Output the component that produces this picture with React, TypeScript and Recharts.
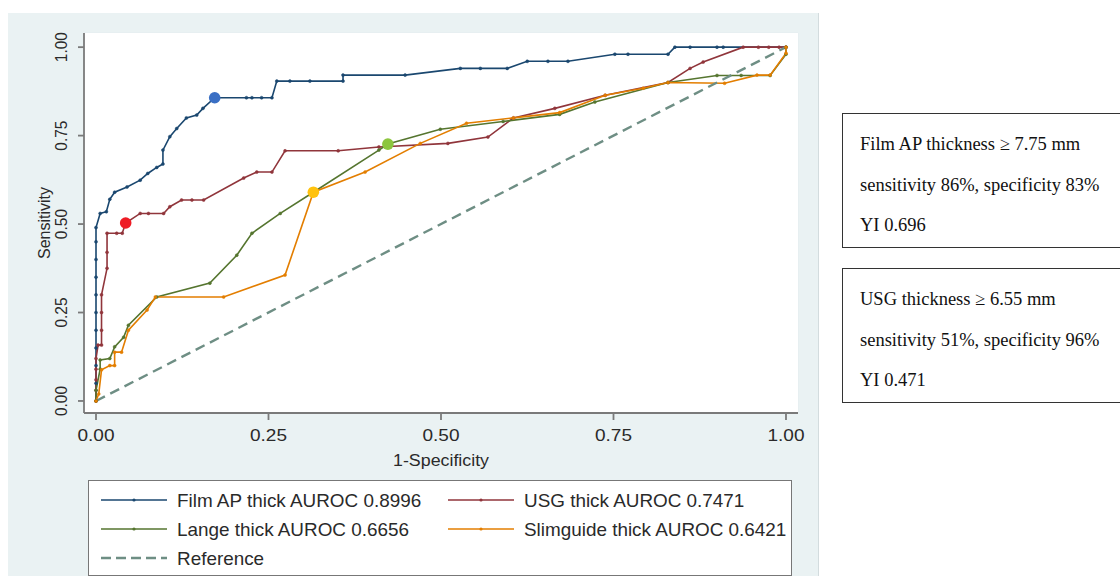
import React from "react";
import { CartesianGrid, ComposedChart, Line, Scatter, XAxis, YAxis } from "recharts";

// ROC points (1-specificity, sensitivity)
const filmX = [0, 0, 0, 0, 0, 0, 0, 0, 0, 0, 0, 0.006, 0.015, 0.02, 0.027, 0.045, 0.064, 0.075, 0.088, 0.097, 0.097, 0.107, 0.117, 0.131, 0.146, 0.155, 0.172, 0.218, 0.226, 0.24, 0.255, 0.262, 0.281, 0.31, 0.358, 0.358, 0.448, 0.528, 0.557, 0.596, 0.625, 0.655, 0.684, 0.752, 0.771, 0.829, 0.839, 0.861, 0.9, 0.909, 1];
const filmY = [0, 0.05, 0.1, 0.15, 0.2, 0.25, 0.3, 0.35, 0.4, 0.45, 0.49, 0.53, 0.535, 0.57, 0.59, 0.605, 0.624, 0.643, 0.66, 0.67, 0.709, 0.747, 0.77, 0.8, 0.808, 0.827, 0.857, 0.857, 0.857, 0.857, 0.857, 0.904, 0.904, 0.904, 0.904, 0.921, 0.921, 0.94, 0.94, 0.94, 0.96, 0.96, 0.96, 0.98, 0.98, 0.98, 1, 1, 1, 1, 1];

const usgX = [0, 0, 0, 0, 0, 0.003, 0.008, 0.008, 0.008, 0.008, 0.016, 0.016, 0.016, 0.03, 0.038, 0.043, 0.064, 0.076, 0.098, 0.107, 0.124, 0.139, 0.156, 0.214, 0.233, 0.255, 0.274, 0.351, 0.41, 0.51, 0.568, 0.605, 0.665, 0.738, 0.829, 0.861, 0.88, 0.938, 0.96, 0.975, 0.99, 1];
const usgY = [0, 0.03, 0.06, 0.09, 0.12, 0.158, 0.158, 0.2, 0.25, 0.3, 0.375, 0.42, 0.474, 0.474, 0.474, 0.503, 0.53, 0.53, 0.53, 0.549, 0.568, 0.568, 0.568, 0.63, 0.647, 0.647, 0.707, 0.707, 0.718, 0.728, 0.746, 0.8, 0.827, 0.864, 0.9, 0.94, 0.958, 1, 1, 1, 1, 1];

const langeX = [0, 0, 0.006, 0.006, 0.02, 0.027, 0.04, 0.047, 0.088, 0.165, 0.204, 0.226, 0.267, 0.315, 0.41, 0.423, 0.499, 0.59, 0.672, 0.723, 0.829, 0.9, 0.935, 0.977, 1, 1];
const langeY = [0, 0.03, 0.09, 0.116, 0.12, 0.153, 0.18, 0.214, 0.294, 0.333, 0.412, 0.474, 0.53, 0.59, 0.709, 0.726, 0.768, 0.79, 0.81, 0.845, 0.9, 0.92, 0.92, 0.92, 0.98, 1];

const slimX = [0, 0.004, 0.008, 0.02, 0.027, 0.027, 0.037, 0.047, 0.074, 0.086, 0.185, 0.274, 0.315, 0.39, 0.47, 0.537, 0.605, 0.672, 0.738, 0.793, 0.829, 0.911, 0.958, 0.977, 1, 1];
const slimY = [0, 0.02, 0.088, 0.1, 0.1, 0.138, 0.138, 0.2, 0.257, 0.294, 0.294, 0.356, 0.59, 0.647, 0.728, 0.785, 0.8, 0.815, 0.864, 0.884, 0.9, 0.898, 0.921, 0.921, 0.983, 1];

const refX = [0, 1];
const refY = [0, 1];

// optimal cut-points (big dots)
const cutX = [0.172, 0.043, 0.423, 0.315];
const cutY = [0.857, 0.503, 0.726, 0.59];
const cutColors = ["#3a6fc4", "#ee1c25", "#8dc63f", "#ffc20e"];

const seriesNames = [
  "Film AP thick AUROC 0.8996",
  "USG thick AUROC 0.7471",
  "Lange thick AUROC 0.6656",
  "Slimguide thick AUROC 0.6421",
];
const seriesColors = ["#1a476f", "#90353b", "#55752f", "#e37e00"];
const REF_NAME = "Reference";
const REF_COLOR = "#6e8e84";

const xTicks = [0, 0.25, 0.5, 0.75, 1];
const yTicks = [0, 0.25, 0.5, 0.75, 1];

const boxLines = [
  ["Film AP thickness \u2265 7.75 mm", "sensitivity 86%, specificity 83%", "YI 0.696"],
  ["USG thickness \u2265 6.55 mm", "sensitivity 51%, specificity 96%", "YI 0.471"],
];

const zip = (xs: number[], ys: number[]) => xs.map((x, i) => ({ x, y: ys[i] }));

const SANS = "'Liberation Sans', Arial, sans-serif";
const BG = "#eaf2f3";
const AXIS = "#7a7a7a";
const TXT = "#2a2a2a";

const W = 830;
const H = 576;
const PLOT_LEFT = 84;
const PLOT_TOP = 33;
const PLOT_RIGHT = 798;
const PLOT_BOTTOM = 413;
const YW = 50;
const XH = 40;

function XTick({ x, y, payload }: any) {
  return (
    <text
      transform={`translate(${x},${y + 19}) scale(1.12,1)`}
      textAnchor="middle"
      fontFamily={SANS}
      fontSize={17}
      fill={TXT}
    >
      {Number(payload.value).toFixed(2)}
    </text>
  );
}

function YTick({ x, y, payload }: any) {
  return (
    <text
      transform={`translate(${x - 9},${y}) scale(1.12,1) rotate(-90)`}
      textAnchor="middle"
      fontFamily={SANS}
      fontSize={15.5}
      fill={TXT}
    >
      {Number(payload.value).toFixed(2)}
    </text>
  );
}

function Legend() {
  const rows = [
    [0, 1],
    [2, 3],
  ];
  const cols = [100, 447];
  const rowY = [19, 48, 77];
  return (
    <svg
      width={704}
      height={96}
      style={{ position: "absolute", left: 88, top: 480, background: "#fff", border: "1.5px solid #777", boxSizing: "border-box" }}
    >
      {rows.map((row, r) =>
        row.map((si, c) => (
          <g key={si}>
            <line x1={cols[c] - 88} x2={cols[c] - 88 + 66} y1={rowY[r]} y2={rowY[r]} stroke={seriesColors[si]} strokeWidth={1.6} />
            <circle cx={cols[c] - 88 + 33} cy={rowY[r]} r={1.6} fill={seriesColors[si]} />
            <text
              transform={`translate(${cols[c] - 88 + 76},${rowY[r] + 6.5}) scale(1.05,1)`}
              fontFamily={SANS}
              fontSize={18}
              fill={TXT}
            >
              {seriesNames[si]}
            </text>
          </g>
        ))
      )}
      <line x1={12} x2={78} y1={rowY[2]} y2={rowY[2]} stroke={REF_COLOR} strokeWidth={2.4} strokeDasharray="10 5" />
      <text transform={`translate(88,${rowY[2] + 6.5}) scale(1.05,1)`} fontFamily={SANS} fontSize={18} fill={TXT}>
        {REF_NAME}
      </text>
    </svg>
  );
}

function CutBox({ lines, top }: { lines: string[]; top: number }) {
  return (
    <div
      style={{
        position: "absolute",
        left: 842,
        top,
        width: 290,
        height: 135,
        boxSizing: "border-box",
        border: "1px solid #333",
        background: "#fff",
        padding: "10px 0 0 17px",
        fontFamily: "'Liberation Serif', 'Times New Roman', serif",
        fontSize: 18.5,
        lineHeight: "40.5px",
        color: "#111",
        whiteSpace: "nowrap",
      }}
    >
      {lines.map((l) => (
        <div key={l}>{l}</div>
      ))}
    </div>
  );
}

export default function App() {
  const series = [zip(filmX, filmY), zip(usgX, usgY), zip(langeX, langeY), zip(slimX, slimY)];
  const cuts = zip(cutX, cutY);
  return (
    <div style={{ position: "absolute", left: 0, top: 0, width: 1120, height: 576, overflow: "hidden", background: "#fff" }}>
      <div style={{ position: "absolute", left: 8, top: 13, width: 810, height: 570, background: BG, borderRight: "1px solid #d3dcde" }} />
      <div style={{ position: "absolute", left: 0, top: 0 }}>
        <ComposedChart
          width={W}
          height={H}
          margin={{ top: PLOT_TOP, right: W - PLOT_RIGHT, bottom: H - PLOT_BOTTOM - XH, left: PLOT_LEFT - YW }}
        >
          <rect x={PLOT_LEFT} y={PLOT_TOP} width={PLOT_RIGHT - PLOT_LEFT} height={PLOT_BOTTOM - PLOT_TOP} fill="#fff" />
          <CartesianGrid stroke="#e6eef0" strokeWidth={1.5} />
          <XAxis
            type="number"
            dataKey="x"
            domain={[-0.0174, 1.0174]}
            ticks={xTicks}
            allowDataOverflow
            height={XH}
            stroke={AXIS}
            strokeWidth={1.8}
            tickSize={7}
            tickMargin={2}
            tick={<XTick />}
          />
          <YAxis
            type="number"
            dataKey="y"
            domain={[-0.034, 1.04]}
            ticks={yTicks}
            allowDataOverflow
            width={YW}
            stroke={AXIS}
            strokeWidth={1.8}
            tickSize={6}
            tickMargin={2}
            tick={<YTick />}
          />
          {series.map((d, i) => (
            <Line
              key={seriesNames[i]}
              data={d}
              dataKey="y"
              type="linear"
              stroke={seriesColors[i]}
              strokeWidth={1.6}
              dot={{ r: 1.5, fill: seriesColors[i], stroke: seriesColors[i], strokeWidth: 0.5 }}
              isAnimationActive={false}
            />
          ))}
          <Line
            data={zip(refX, refY)}
            dataKey="y"
            type="linear"
            stroke={REF_COLOR}
            strokeWidth={2.4}
            strokeDasharray="10 6"
            dot={false}
            isAnimationActive={false}
          />
          <Scatter
            data={cuts}
            dataKey="y"
            isAnimationActive={false}
            shape={(p: any) => <circle cx={p.cx} cy={p.cy} r={5.8} fill={cutColors[p.index] ?? cutColors[0]} />}
          />
        </ComposedChart>
      </div>
      <svg width={W} height={H} style={{ position: "absolute", left: 0, top: 0, pointerEvents: "none" }}>
        <text
          transform={`translate(${(PLOT_LEFT + PLOT_RIGHT) / 2},466) scale(1.08,1)`}
          textAnchor="middle"
          fontFamily={SANS}
          fontSize={16.5}
          fill={TXT}
        >
          1-Specificity
        </text>
        <text
          transform={`translate(50,${(PLOT_TOP + PLOT_BOTTOM) / 2}) scale(1.08,1) rotate(-90)`}
          textAnchor="middle"
          fontFamily={SANS}
          fontSize={16}
          fill={TXT}
        >
          Sensitivity
        </text>
      </svg>
      <Legend />
      {boxLines.map((lines, i) => (
        <CutBox key={i} lines={lines} top={i === 0 ? 113 : 268} />
      ))}
    </div>
  );
}
